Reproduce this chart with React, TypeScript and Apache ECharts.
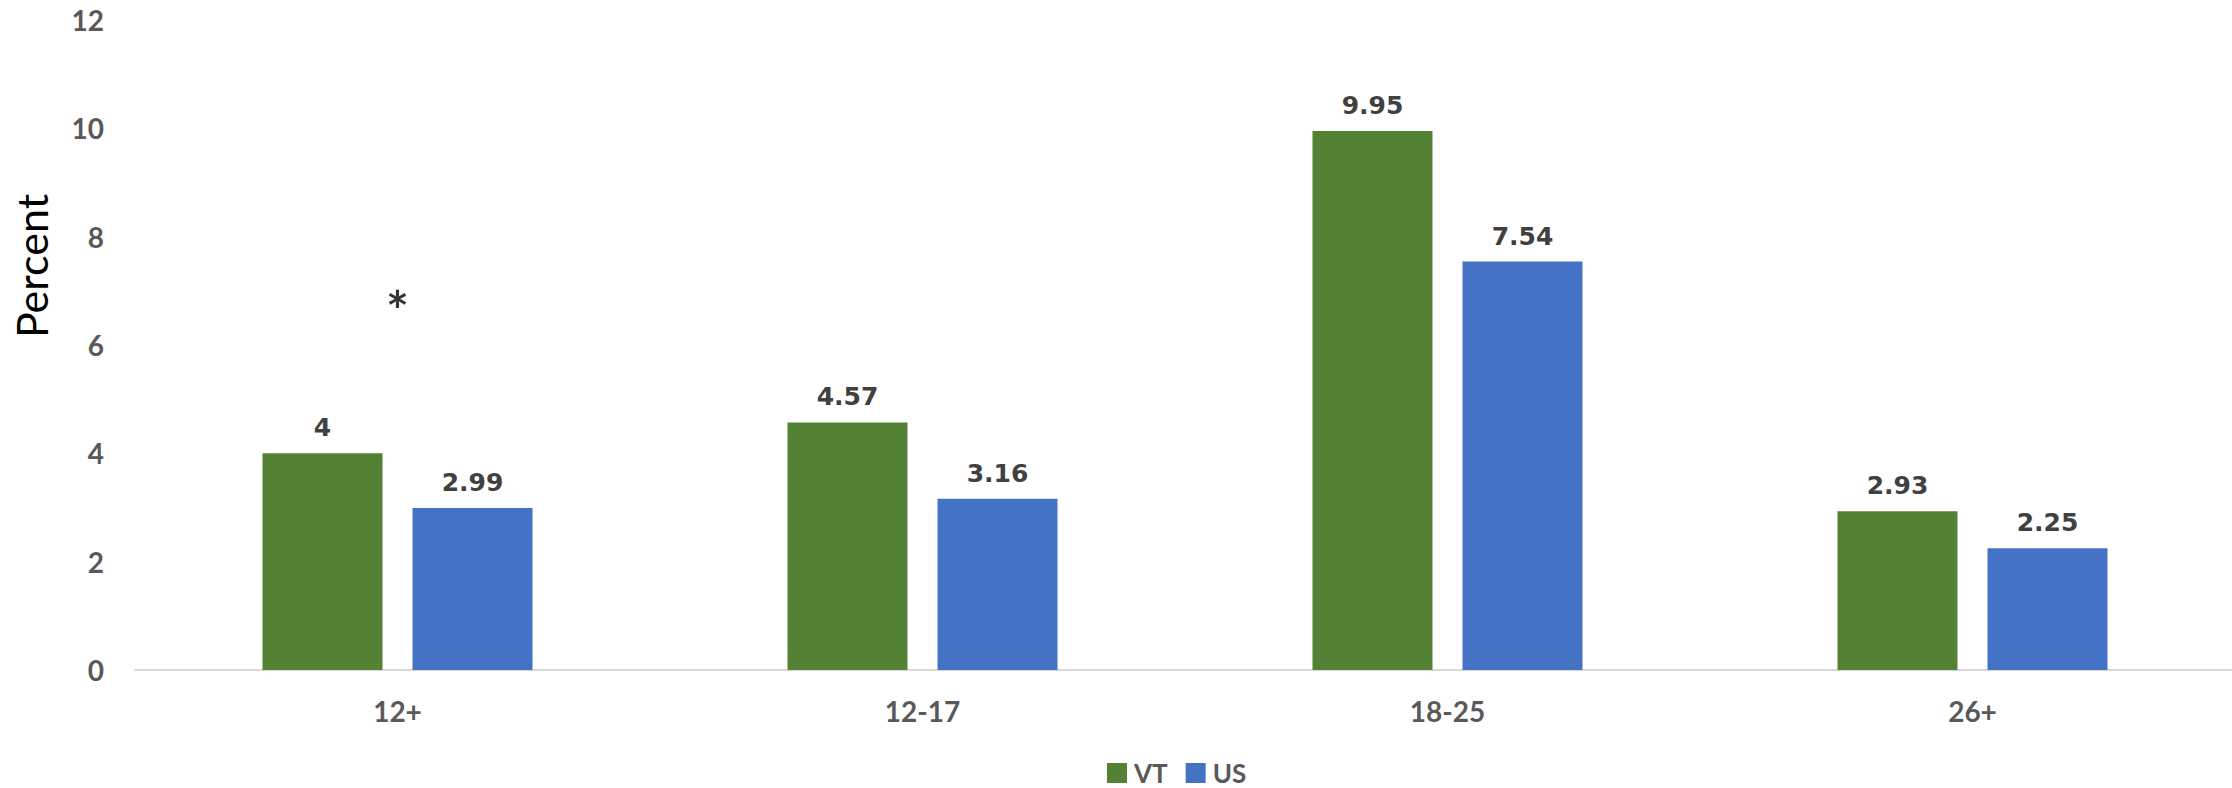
import React, { useEffect, useRef } from "react";
import * as echarts from "echarts";

const categories = ["12+", "12-17", "18-25", "26+"];
const vtValues = [4, 4.57, 9.95, 2.93];
const usValues = [2.99, 3.16, 7.54, 2.25];
const significance = ["*", "", "", ""];
const significanceLevel = 6.66;
const yTicks = { min: 0, max: 12, interval: 2 };

export default function App() {
  const ref = useRef<HTMLDivElement>(null);
  useEffect(() => {
    if (!ref.current) return;
    const chart = echarts.init(ref.current, undefined, { renderer: "svg" });
    const valueLabel = {
      show: true,
      position: "top",
      distance: 13,
      color: "#404040",
      fontFamily: "DejaVu Sans",
      fontWeight: "bold",
      fontSize: 25,
    };
    chart.setOption({
      animation: false,
      backgroundColor: "#ffffff",
      grid: { left: 135, top: 20, width: 2100, height: 650, outerBoundsMode: "none", containLabel: false },
      legend: {
        data: ["VT", "US"],
        left: 1107,
        top: 760,
        icon: "rect",
        itemWidth: 20,
        itemHeight: 20,
        itemGap: 18,
        padding: 0,
        textStyle: {
          color: "#595959",
          fontFamily: "Lato",
          fontWeight: "bold",
          fontSize: 26,
          lineHeight: 26,
          padding: [0, 0, 0, 2],
        },
      },
      xAxis: {
        type: "category",
        data: categories,
        axisTick: { show: false },
        axisLine: { lineStyle: { color: "#d9d9d9", width: 2 } },
        axisLabel: { color: "#595959", fontFamily: "Lato", fontWeight: "bold", fontSize: 28, margin: 27 },
      },
      yAxis: {
        type: "value",
        min: yTicks.min,
        max: yTicks.max,
        interval: yTicks.interval,
        axisLine: { show: false },
        axisTick: { show: false },
        splitLine: { show: false },
        axisLabel: { color: "#595959", fontFamily: "Lato", fontWeight: "bold", fontSize: 28, margin: 31 },
      },
      graphic: [
        {
          type: "text",
          x: 31,
          y: 266,
          rotation: Math.PI / 2,
          style: {
            text: "Percent",
            fill: "#000000",
            font: "43px Lato",
            align: "center",
            verticalAlign: "middle",
          },
        },
      ],
      series: [
        {
          name: "VT",
          type: "bar",
          data: vtValues,
          barWidth: 120,
          barGap: "25%",
          itemStyle: { color: "#548235" },
          label: valueLabel,
        },
        {
          name: "US",
          type: "bar",
          data: usValues,
          barWidth: 120,
          itemStyle: { color: "#4472C4" },
          label: valueLabel,
        },
        {
          name: "significance",
          type: "scatter",
          symbolSize: 0,
          silent: true,
          data: significance.map((s) => (s ? significanceLevel : null)),
          label: {
            show: true,
            position: "inside",
            formatter: (p: any) => significance[p.dataIndex],
            color: "#000000",
            fontFamily: "Lato",
            fontWeight: "bold",
            fontSize: 54,
          },
        },
      ],
    });
    return () => chart.dispose();
  }, []);
  return (
    <div
      ref={ref}
      style={{ position: "fixed", left: 0, top: 0, width: 2232, height: 788, background: "#fff" }}
    />
  );
}
